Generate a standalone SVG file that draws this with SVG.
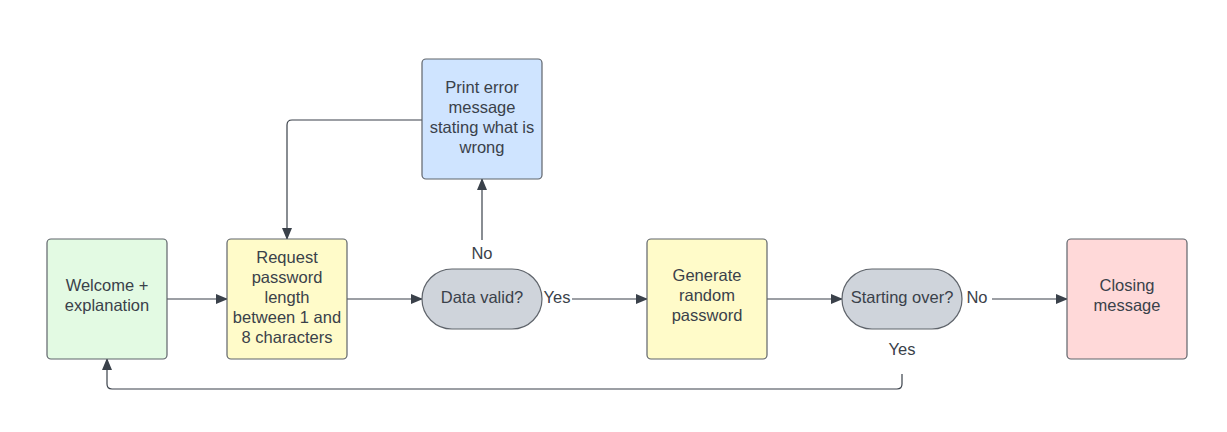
<svg xmlns="http://www.w3.org/2000/svg" width="1227" height="432" viewBox="0 0 1227 432">
<defs>
<marker id="ah" markerWidth="12" markerHeight="10" refX="11" refY="5" orient="auto" markerUnits="userSpaceOnUse"><path d="M0,0 L12,5 L0,10 Z" fill="#3a414a"/></marker>
</defs>
<style>
text{font-family:"Liberation Sans",Arial,sans-serif;font-size:16.5px;fill:#3a414a;text-anchor:middle}
.box{stroke:#5f646b;stroke-width:1.2}
.c{fill:none;stroke:#3a414a;stroke-width:1.2;marker-end:url(#ah)}
</style>
<rect width="1227" height="432" fill="#ffffff"/>
<g id="connectors">
<path class="c" d="M167,299 H227"/>
<path class="c" d="M347,299 H422"/>
<path class="c" d="M572,299 H647"/>
<path class="c" d="M767,299 H842"/>
<path class="c" d="M992,299 H1067"/>
<path class="c" d="M482,240 V179"/>
<path class="c" d="M422,120 H292 Q287,120 287,125 V239"/>
<path class="c" d="M902,374 V384 Q902,389 897,389 H112 Q107,389 107,384 V359"/>
<text x="557" y="303">Yes</text>
<text x="482" y="259">No</text>
<text x="977" y="303">No</text>
<text x="902" y="355">Yes</text>
</g>
<g id="welcome">
<rect class="box" x="47" y="239" width="120" height="120" rx="4" fill="#e3fae3"/>
<text x="107" y="291">Welcome +</text>
<text x="107" y="311">explanation</text>
</g>
<g id="request">
<rect class="box" x="227" y="239" width="120" height="120" rx="4" fill="#fffbc9"/>
<text x="287" y="263">Request</text>
<text x="287" y="283">password</text>
<text x="287" y="303">length</text>
<text x="287" y="323">between 1 and</text>
<text x="287" y="343">8 characters</text>
</g>
<g id="error">
<rect class="box" x="422" y="59" width="120" height="120" rx="4" fill="#cfe4ff"/>
<text x="482" y="93">Print error</text>
<text x="482" y="113">message</text>
<text x="482" y="133">stating what is</text>
<text x="482" y="153">wrong</text>
</g>
<g id="datavalid">
<rect class="box" x="422" y="269" width="120" height="60" rx="30" fill="#cfd4db"/>
<text x="482" y="303">Data valid?</text>
</g>
<g id="generate">
<rect class="box" x="647" y="239" width="120" height="120" rx="4" fill="#fffbc9"/>
<text x="707" y="281">Generate</text>
<text x="707" y="301">random</text>
<text x="707" y="321">password</text>
</g>
<g id="startover">
<rect class="box" x="842" y="269" width="120" height="60" rx="30" fill="#cfd4db"/>
<text x="902" y="303">Starting over?</text>
</g>
<g id="closing">
<rect class="box" x="1067" y="239" width="120" height="120" rx="4" fill="#ffd9d9"/>
<text x="1127" y="291">Closing</text>
<text x="1127" y="311">message</text>
</g>
</svg>
